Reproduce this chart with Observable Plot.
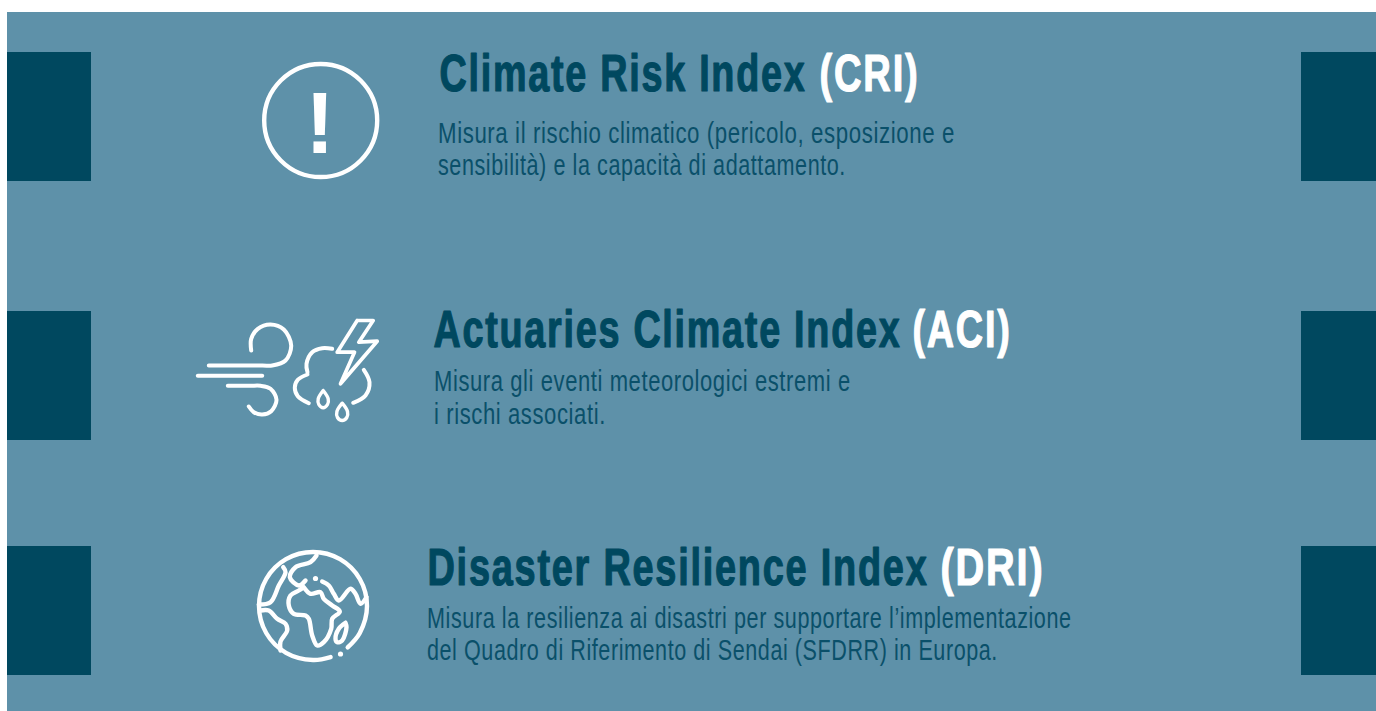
<!DOCTYPE html>
<html><head><meta charset="utf-8">
<script src="https://cdn.jsdelivr.net/npm/d3@7"></script>
<script src="https://cdn.jsdelivr.net/npm/@observablehq/plot@0.6"></script>
<style>html,body{margin:0;padding:0;background:#fff;overflow:hidden}svg{display:block}</style>
</head><body><div id="chart"></div>
<script>
const panel = [{x1:7,x2:1376,y1:12,y2:711}];
const blocks = [
 {x1:7,x2:91,y1:52,y2:181},{x1:7,x2:91,y1:311,y2:440},{x1:7,x2:91,y1:546,y2:675},
 {x1:1301,x2:1376,y1:52,y2:181},{x1:1301,x2:1376,y1:311,y2:440},{x1:1301,x2:1376,y1:546,y2:675}];
const titlesDark = [{x:439,y:90,t:"Climate Risk Index"},{x:433,y:346.5,t:"Actuaries Climate Index"},{x:427,y:584,t:"Disaster Resilience Index"}];
const titlesLight = [{x:819,y:90,t:"(CRI)"},{x:912,y:346.5,t:"(ACI)"},{x:940,y:584,t:"(DRI)"}];
const bodyLines = [
 {x:437.5,y:142.5,t:"Misura il rischio climatico (pericolo, esposizione e"},
 {x:437.5,y:174.5,t:"sensibilità) e la capacità di adattamento."},
 {x:433.5,y:390.5,t:"Misura gli eventi meteorologici estremi e"},
 {x:433.5,y:423,t:"i rischi associati."},
 {x:426.5,y:627.5,t:"Misura la resilienza ai disastri per supportare l’implementazione"},
 {x:426.5,y:659.5,t:"del Quadro di Riferimento di Sendai (SFDRR) in Europa."}];
const lineWidths = {
 "Climate Risk Index":367,"Actuaries Climate Index":468,"Disaster Resilience Index":501,
 "(CRI)":100,"(ACI)":99,"(DRI)":104,
 "Misura il rischio climatico (pericolo, esposizione e":517,
 "sensibilità) e la capacità di adattamento.":408,
 "Misura gli eventi meteorologici estremi e":417,
 "i rischi associati.":172,
 "Misura la resilienza ai disastri per supportare l’implementazione":645,
 "del Quadro di Riferimento di Sendai (SFDRR) in Europa.":571};
const rings = [{x:320.2,y:120}];
const bang = [{x:319.5,y:152.5,t:"!"}];
const windStrokes = [
 [[250.7,350],[250.7,338.3],[257.3,328.3],[270,324],[283.3,329],[290.7,345],[285,360],[271.7,365],[262,365],[208.3,365]],
 [[197.3,375.3],[261.7,375.3]],
 [[227.3,385.3],[250,385.3],[260,385.3],[270,388.3],[276,399.3],[270.7,410.7],[261.7,414],[253.3,411.7],[248.3,406]],
 [[331.7,348.3],[321.7,347.7],[311.7,351.7],[306,363.3],[307,371.7]],
 [[307,374],[297.3,379.3],[294.3,387.3],[297.3,395.7],[308.3,402.7]],
 [[363.3,369.3],[369,381.7],[365,395],[352.7,402.3]]
];
const globeStrokes = [
 [[330.1,656.6],[312.5,659.5],[285.5,652.3],[265.7,632.5],[258.5,605.5],[265.7,578.5],[285.5,558.7],[312.5,551.5],[339.5,558.7],[359.3,578.5],[366.5,605.5],[359.3,632.5],[347.2,646.9]],
 [[282.7,566.7],[285,571.7],[278.3,585],[270,601.7],[258.3,604]],
 [[260,610],[268.3,610],[276.7,618.3],[285,623.3],[286.7,630],[280,641],[280,650]],
 [[316,555],[310,561.7],[295,566.7],[289.3,576.7],[298.3,585],[305,580]],
 [[321.7,581],[328.3,585],[333.3,593.3],[338.3,600],[350,588.3],[355,593.3],[360,603.3],[366,596.7]],
 [[303.3,586.7],[310,593.3],[320,591.7],[323.3,598.3],[331.7,605],[339.3,611],[331.7,618.3],[330.7,628.3],[323.3,641.7],[316.7,645],[311.7,635],[308.3,618.3],[305,615],[293.3,613.3],[288.3,605],[290,595],[298.3,590],[303.3,586.7]],
 [[345,622.3],[346,626.7],[341.7,640],[336.7,641.7],[335,638.3],[338.3,628.3],[345,622.3]]
];
const bolt = [[356.7,320],[372.7,320],[358.3,341.7],[376.7,340.7],[340,383.3],[354,351.7],[336.7,351.7],[356.7,320]];
const drops = [
 [[322.7,390],[327.7,398.3],[327,404],[322.7,407.3],[318.3,404],[317.7,398.3],[322.7,390]],
 [[341.7,402.7],[347,411],[346.3,417],[341.7,420],[337,417],[336.4,411],[341.7,402.7]]
];
const specks = [{x:315,y:578},{x:340,y:653.5}];

const curved = (s,w)=>Plot.line(s,{x:d=>d[0],y:d=>d[1],stroke:"#fff",strokeWidth:w,curve:s.length>2?"catmull-rom":"linear",strokeLinecap:"round",strokeLinejoin:"round"});
const dark = "#00485f";
const tf = {x:"x",y:"y",text:"t",textAnchor:"start",lineAnchor:"bottom"};
const chart = Plot.plot({
 width:1376,height:711,margin:0,
 x:{domain:[0,1376],range:[0,1376],axis:null},
 y:{domain:[0,711],range:[0,711],axis:null},
 style:{background:"transparent"},
 marks:[
  Plot.rect(panel,{x1:"x1",x2:"x2",y1:"y1",y2:"y2",fill:"#5e91a9"}),
  Plot.rect(blocks,{x1:"x1",x2:"x2",y1:"y1",y2:"y2",fill:dark}),
  Plot.text(titlesDark,{...tf,fontFamily:"Liberation Sans",fontWeight:"bold",fontSize:52,fill:dark,stroke:dark,strokeWidth:1.2}),
  Plot.text(titlesLight,{...tf,fontFamily:"Liberation Sans",fontWeight:"bold",fontSize:52,fill:"#fff",stroke:"#fff",strokeWidth:1.2}),
  Plot.text(bodyLines,{...tf,fontFamily:"Liberation Sans",fontSize:30,fill:"#0a506a"}),
  Plot.dot(rings,{x:"x",y:"y",r:56.5,stroke:"#fff",strokeWidth:4.4}),
  Plot.text(bang,{x:"x",y:"y",text:"t",textAnchor:"middle",lineAnchor:"bottom",fontFamily:"Liberation Sans",fontWeight:"bold",fontSize:88,fill:"#fff"}),
  ...windStrokes.map(s=>curved(s,4)),
  ...globeStrokes.map(s=>curved(s,4.4)),
  Plot.line(bolt,{x:d=>d[0],y:d=>d[1],stroke:"#fff",strokeWidth:3.7,strokeLinejoin:"round"}),
  ...drops.map(s=>curved(s,3.4)),
  Plot.dot(specks,{x:"x",y:"y",r:2.6,fill:"#fff"})
 ]
});
document.getElementById("chart").append(chart);
d3.select(chart).selectAll("text").each(function(){
  const t = this.textContent, w = lineWidths[t];
  if (!w) return;
  const isTitle = getComputedStyle(this).fontSize==="52px";
  this.setAttribute("letter-spacing", isTitle ? 2.4 : 0.8);
  const natural = this.getComputedTextLength();
  this.setAttribute("transform", this.getAttribute("transform")+` scale(${w/natural},1)`);
});
</script></body></html>
